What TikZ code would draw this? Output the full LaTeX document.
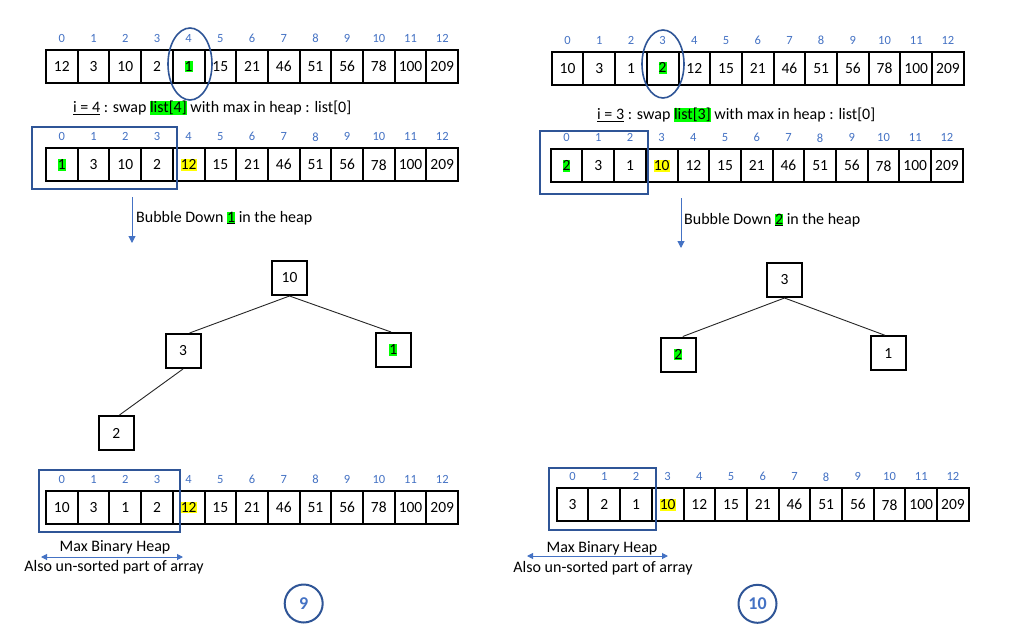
\documentclass[tikz,border=0pt]{standalone}
\usepackage{fontspec}
\setmainfont{Carlito}
\usetikzlibrary{arrows.meta}
\definecolor{idxblue}{HTML}{4472C4}
\definecolor{darkblue}{HTML}{2F5597}
\definecolor{hlgreen}{HTML}{00FF00}
\definecolor{hlyellow}{HTML}{FFFF00}
\newcommand{\hlg}[1]{{\setlength{\fboxsep}{0pt}\colorbox{hlgreen}{\rule[-1.2pt]{0pt}{11.8pt}#1}}}
\newcommand{\hly}[1]{{\setlength{\fboxsep}{0pt}\colorbox{hlyellow}{\rule[-1.2pt]{0pt}{11.8pt}#1}}}
\newcommand{\cellrow}[4]{%
  \foreach \v [count=\k from 0] in {#4}{%
    \node[arrcell] (#1c\k) at ({#2+15.85+31.7*\k},{#3+16.5}) {\v};
    \node[idx] (#1i\k) at ({#2+15.85+31.7*\k},{#3-11.5}) {\k};
  }}
\tikzset{
  arrcell/.style={draw, line width=2pt, minimum width=31.7pt, minimum height=33pt, inner sep=0pt, font=\fontsize{15.5}{18}\selectfont},
  idx/.style={text=idxblue, font=\fontsize{12.5}{14}\selectfont, inner sep=0pt},
  tnode/.style={draw, line width=2pt, minimum width=35pt, minimum height=34pt, inner sep=0pt, font=\fontsize{15.5}{18}\selectfont},
  treeline/.style={line width=0.9pt, draw=black!85},
  heapbox/.style={draw=darkblue, line width=2pt},
  pick/.style={draw=darkblue, line width=1.6pt},
  txt/.style={font=\fontsize{16}{18}\selectfont, inner sep=0pt},
  downarrow/.style={draw=idxblue, line width=1pt, -{Triangle[width=7pt,length=7pt]}},
  bothway/.style={draw=idxblue, line width=1pt, {Triangle[width=6pt,length=6pt]}-{Triangle[width=6pt,length=6pt]}},
  stepnum/.style={circle, draw=darkblue, line width=2pt, minimum size=38pt, inner sep=0pt, text=idxblue, font=\fontsize{18}{20}\selectfont\bfseries}
}
\begin{document}
\begin{tikzpicture}[x=1pt,y=-1pt]
\fill[white] (0,0) rectangle (1021,643);
\useasboundingbox (0,0) rectangle (1021,643);

% ---------- left panel ----------
\cellrow{LA}{46}{50}{12,3,10,2,{\hlg{1}},15,21,46,51,56,78,100,209}
\draw[pick] (190,64) ellipse [x radius=22pt, y radius=36pt];
\node[txt, anchor=west] (lt1) at (73,108) {\underline{i = 4} : swap \hlg{list[4]} with max in heap : list[0]};
\cellrow{LB}{46}{148.3}{{\hlg{1}},3,10,2,{\hly{12}},15,21,46,51,56,78,100,209}
\draw[heapbox] (32,127) rectangle (177,189);
\coordinate (la1) at (132,197);
\coordinate (la2) at (132,243);
\draw[downarrow] (la1) -- (la2);
\node[txt, anchor=west] (lt2) at (136,218) {Bubble Down \hlg{\underline{1}} in the heap};

\node[tnode] (lr) at (289.5,278) {10};
\node[tnode] (l3) at (183,351) {3};
\node[tnode] (l1) at (393.3,350) {\hlg{1}};
\node[tnode] (l2) at (116.3,433) {2};
\draw[treeline] (lr.south) -- (l3.70);
\draw[treeline] (lr.south) -- (l1.97);
\draw[treeline] (l3.south) -- (l2.80);

\cellrow{LC}{46}{491}{10,3,1,2,{\hly{12}},15,21,46,51,56,78,100,209}
\draw[heapbox] (39,470) rectangle (180,532);
\node[txt] (lm1) at (115,547) {Max Binary Heap};
\coordinate (lb1) at (41,557);
\coordinate (lb2) at (183,557);
\draw[bothway] (lb1) -- (lb2);
\node[txt] (lm2) at (114,567) {Also un-sorted part of array};
\node[stepnum] (s9) at (303.7,603.5) {9};

% ---------- right panel ----------
\cellrow{RA}{551.7}{51.7}{10,3,1,{\hlg{2}},12,15,21,46,51,56,78,100,209}
\draw[pick] (663,64) ellipse [x radius=21pt, y radius=34pt];
\node[txt, anchor=west] (rt1) at (597,115) {\underline{i = 3} : swap \hlg{list[3]} with max in heap : list[0]};
\cellrow{RB}{550.7}{149.3}{{\hlg{2}},3,1,{\hly{10}},12,15,21,46,51,56,78,100,209}
\draw[heapbox] (540,131) rectangle (648,194);
\coordinate (ra1) at (681,198);
\coordinate (ra2) at (681,248);
\draw[downarrow] (ra1) -- (ra2);
\node[txt, anchor=west] (rt2) at (684,220) {Bubble Down \hlg{\underline{2}} in the heap};

\node[tnode] (rr) at (784.5,280) {3};
\node[tnode] (r2) at (678.3,354.5) {\hlg{2}};
\node[tnode] (r1) at (888.2,353.3) {1};
\draw[treeline] (rr.south) -- (r2.76);
\draw[treeline] (rr.south) -- (r1.100);

\cellrow{RC}{556.7}{488.3}{3,2,1,{\hly{10}},12,15,21,46,51,56,78,100,209}
\draw[heapbox] (549,468) rectangle (656,530);
\node[txt] (rm1) at (602,548) {Max Binary Heap};
\coordinate (rb1) at (527,556);
\coordinate (rb2) at (668,556);
\draw[bothway] (rb1) -- (rb2);
\node[txt] (rm2) at (603,568) {Also un-sorted part of array};
\node[stepnum] (s10) at (757.5,603.8) {10};
\end{tikzpicture}
\end{document}
